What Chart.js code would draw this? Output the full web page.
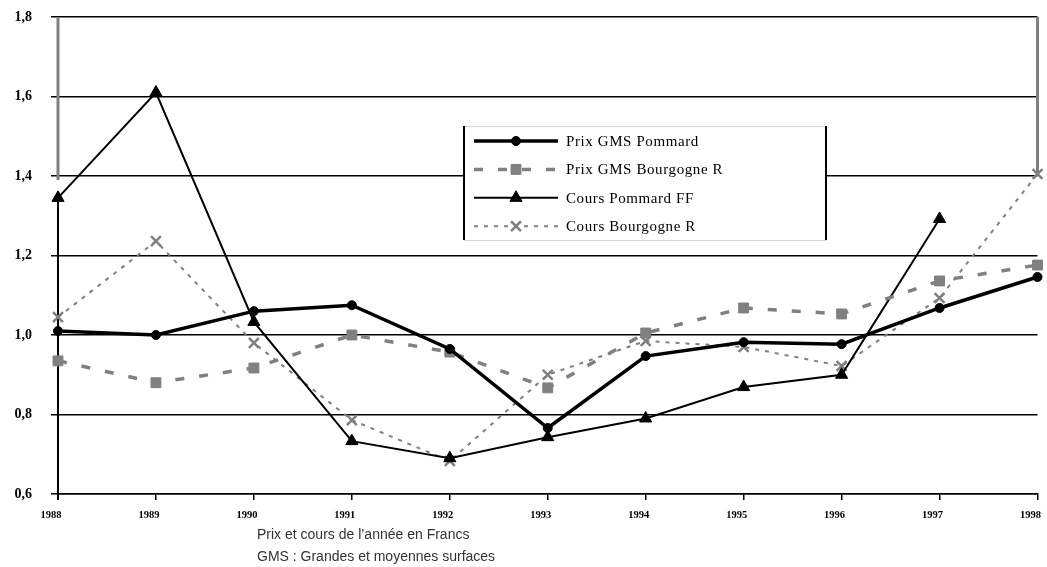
<!DOCTYPE html>
<html>
<head>
<meta charset="utf-8">
<script src="https://cdn.jsdelivr.net/npm/chart.js@4.4.0/dist/chart.umd.min.js"></script>
<style>
  html, body { margin: 0; padding: 0; background: #fff; }
  #wrap { position: relative; width: 1047px; height: 567px; }
  #chart { display: block; }
  .note { position: absolute; left: 257px; font-family: "Liberation Sans", Arial, sans-serif; font-size: 14px; color: #333; white-space: nowrap; }
</style>
</head>
<body>
<div id="wrap">
  <canvas id="chart" width="1047" height="567"></canvas>
  <div class="note" style="top: 526px;">Prix et cours de l’année en Francs</div>
  <div class="note" style="top: 548px;">GMS : Grandes et moyennes surfaces</div>
</div>
<script>
// Years on the x axis
const years = ['1988', '1989', '1990', '1991', '1992', '1993', '1994', '1995', '1996', '1997', '1998'];

// Series
const prixGmsPommard = [1.01, 1.00, 1.06, 1.075, 0.965, 0.766, 0.947, 0.982, 0.977, 1.068, 1.146];
const prixGmsBourgogne = [0.935, 0.88, 0.917, 1.00, 0.957, 0.867, 1.005, 1.068, 1.053, 1.136, 1.176];
const coursPommard = [1.345, 1.61, 1.033, 0.733, 0.69, 0.743, 0.79, 0.869, 0.90, 1.292, null];
const coursBourgogne = [1.045, 1.236, 0.98, 0.786, 0.683, 0.90, 0.985, 0.97, 0.922, 1.093, 1.405];

// y axis ticks
const yTicks = [0.6, 0.8, 1.0, 1.2, 1.4, 1.6, 1.8];

const GRAY = '#808080';

// Legend box drawn inside the plot, over the grid
const legendBox = {
    id: 'legendBox',
    afterDraw(chart) {
        const ctx = chart.ctx;
        const left = 464, top = 126, right = 826, bottom = 240;
        ctx.save();
        ctx.fillStyle = '#fff';
        ctx.fillRect(left, top, right - left, bottom - top);
        ctx.strokeStyle = '#d8d8d8';
        ctx.lineWidth = 1;
        ctx.strokeRect(left + 0.5, top + 0.5, right - left, bottom - top);
        ctx.strokeStyle = '#000';
        ctx.lineWidth = 2;
        ctx.beginPath();
        ctx.moveTo(left, top); ctx.lineTo(left, bottom);
        ctx.moveTo(right, top); ctx.lineTo(right, bottom);
        ctx.stroke();

        chart.data.datasets.forEach((ds, i) => {
            const y = 141 + i * 28.4;
            ctx.strokeStyle = ds.borderColor;
            ctx.lineWidth = ds.borderWidth;
            ctx.setLineDash(ds.borderDash || []);
            ctx.beginPath();
            ctx.moveTo(474, y);
            ctx.lineTo(558, y);
            ctx.stroke();
            ctx.setLineDash([]);
            ctx.fillStyle = ds.pointBackgroundColor;
            ctx.strokeStyle = ds.pointBorderColor;
            ctx.lineWidth = ds.pointBorderWidth;
            Chart.helpers.drawPoint(ctx, { pointStyle: ds.pointStyle, radius: ds.pointRadius, borderWidth: ds.pointBorderWidth }, 516, y);
            ctx.fillStyle = '#000';
            ctx.font = '15px "Liberation Serif", serif';
            ctx.letterSpacing = '0.6px';
            ctx.textBaseline = 'middle';
            ctx.fillText(ds.label, 566, y + 1);
            ctx.letterSpacing = '0px';
        });
        ctx.restore();
    }
};

// Vertical edge lines at the first and last year
const edgeLines = {
    id: 'edgeLines',
    beforeDatasetsDraw(chart) {
        const ctx = chart.ctx;
        const x = chart.scales.x, y = chart.scales.y;
        const x0 = x.getPixelForValue(0), x1 = x.getPixelForValue(years.length - 1);
        ctx.save();
        ctx.strokeStyle = GRAY;
        ctx.lineWidth = 3;
        ctx.beginPath();
        ctx.moveTo(x0, y.getPixelForValue(1.8));
        ctx.lineTo(x0, y.getPixelForValue(1.39));
        ctx.moveTo(x1, y.getPixelForValue(1.8));
        ctx.lineTo(x1, y.getPixelForValue(coursBourgogne[coursBourgogne.length - 1]));
        ctx.stroke();
        ctx.strokeStyle = '#000';
        ctx.lineWidth = 2;
        ctx.beginPath();
        ctx.moveTo(x0, y.getPixelForValue(0.6) + 6);
        ctx.lineTo(x0, y.getPixelForValue(coursPommard[0]));
        ctx.stroke();
        ctx.restore();
    }
};

new Chart(document.getElementById('chart'), {
    type: 'line',
    data: {
        labels: years,
        datasets: [{
            label: 'Prix GMS Pommard',
            data: prixGmsPommard,
            borderColor: '#000',
            borderWidth: 3.5,
            pointStyle: 'circle',
            pointRadius: 4.5,
            pointBackgroundColor: '#000',
            pointBorderColor: '#000',
            pointBorderWidth: 1
        }, {
            label: 'Prix GMS Bourgogne R',
            data: prixGmsBourgogne,
            borderColor: GRAY,
            borderWidth: 3.5,
            borderDash: [9, 15],
            pointStyle: 'rect',
            pointRadius: 7,
            pointBackgroundColor: GRAY,
            pointBorderColor: GRAY,
            pointBorderWidth: 1
        }, {
            label: 'Cours Pommard FF',
            data: coursPommard,
            borderColor: '#000',
            borderWidth: 2,
            pointStyle: 'triangle',
            pointRadius: 7,
            pointBackgroundColor: '#000',
            pointBorderColor: '#000',
            pointBorderWidth: 1
        }, {
            label: 'Cours Bourgogne R',
            data: coursBourgogne,
            borderColor: GRAY,
            borderWidth: 2,
            borderDash: [4, 6],
            pointStyle: 'crossRot',
            pointRadius: 7,
            pointBackgroundColor: GRAY,
            pointBorderColor: GRAY,
            pointBorderWidth: 2.5
        }]
    },
    options: {
        responsive: false,
        animation: false,
        events: [],
        layout: { padding: { top: 17, right: 3, bottom: 43, left: 0 } },
        plugins: {
            legend: { display: false },
            tooltip: { enabled: false }
        },
        elements: { line: { tension: 0, fill: false } },
        scales: {
            x: {
                offset: false,
                afterFit: s => { s.height = 30; s.paddingLeft = 0; s.paddingRight = 0; },
                grid: { drawOnChartArea: false, drawTicks: true, tickLength: 6, color: '#000', lineWidth: 1.5 },
                border: { display: true, color: '#000', width: 1.5 },
                ticks: {
                    color: '#000',
                    padding: 9,
                    labelOffset: -7,
                    maxRotation: 0,
                    autoSkip: false,
                    font: { family: '"Liberation Serif", serif', size: 10.5, weight: 'bold' }
                }
            },
            y: {
                min: 0.6,
                max: 1.8,
                afterFit: s => { s.width = 58; s.paddingTop = 0; s.paddingBottom = 0; },
                afterBuildTicks: s => { s.ticks = yTicks.map(v => ({ value: v })); },
                grid: { color: '#000', lineWidth: 1.5, tickLength: 7 },
                border: { display: false },
                ticks: {
                    color: '#000',
                    padding: 19,
                    font: { family: '"Liberation Serif", serif', size: 14, weight: 'bold' },
                    callback: v => v.toFixed(1).replace('.', ',')
                }
            }
        }
    },
    plugins: [edgeLines, legendBox]
});
</script>
</body>
</html>
